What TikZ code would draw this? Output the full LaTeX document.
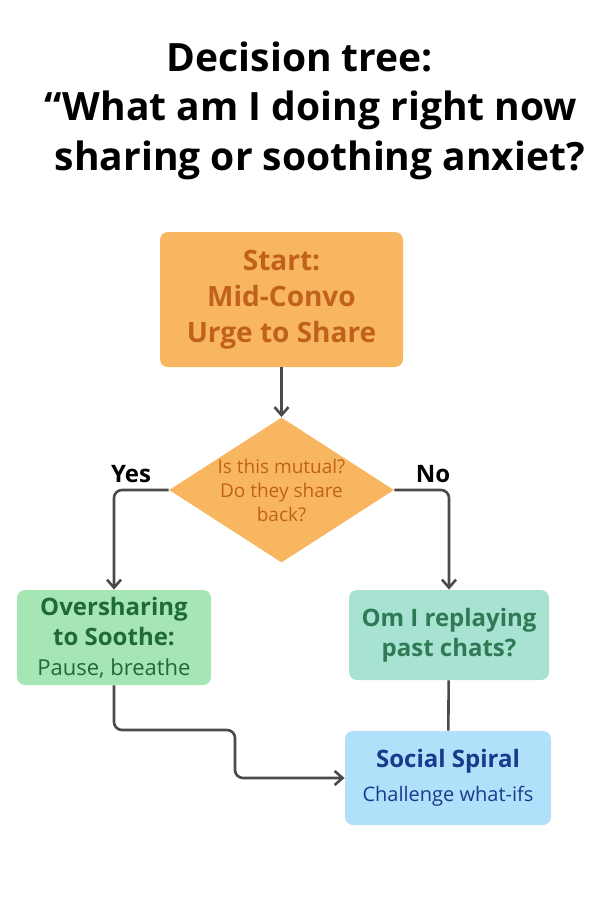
\documentclass[tikz,border=0pt]{standalone}
\usepackage{fontspec}
\setmainfont{Open Sans}
\usetikzlibrary{shapes.geometric,arrows.meta}
\definecolor{startfill}{HTML}{F9B660}
\definecolor{starttext}{HTML}{C0621C}
\definecolor{greenfill}{HTML}{A6E5B4}
\definecolor{greentext}{HTML}{1E6B34}
\definecolor{tealfill}{HTML}{A8E2D2}
\definecolor{tealtext}{HTML}{2E7A55}
\definecolor{bluefill}{HTML}{B0E0FA}
\definecolor{bluetext}{HTML}{173C8C}
\definecolor{linegray}{HTML}{4A4A4A}
\newcommand{\bigline}{\fontsize{12}{15}\selectfont\bfseries}
\newcommand{\smallline}{\fontsize{11}{13}\selectfont\mdseries}
\tikzset{
  box/.style={rounded corners=4pt, align=center, inner sep=0pt},
  link/.style={draw=linegray, line width=1.3pt, rounded corners=4pt},
  arr/.style={link, -{Straight Barb[length=4pt,width=7pt]}},
}
\begin{document}
\begin{tikzpicture}[x=0.5pt,y=-0.5pt]
\useasboundingbox (0,0) rectangle (600,900);
% title
\node (title1) at (300,57) {\fontsize{19.5}{23}\selectfont\bfseries Decision tree:};
\node (title2) at (311,110) {\fontsize{19.5}{23}\selectfont\bfseries “What am I doing right now};
\node (title3) at (320,160) {\fontsize{19.5}{23}\selectfont\bfseries sharing or soothing anxiet?};
% boxes
\node[box, fill=startfill, text=starttext, minimum width=121.5pt, minimum height=67.5pt, font=\fontsize{14}{18}\selectfont\bfseries]
  (start) at (281.5,299.5) {Start:\\Mid-Convo\\Urge to Share};
\node[diamond, fill=startfill, text=starttext, minimum width=111.5pt, minimum height=72pt, inner sep=0pt, aspect=1.55, align=center, font=\fontsize{9.5}{12}\selectfont]
  (mutual) at (281.5,490) {Is this mutual?\\Do they share\\back?};
\node[box, fill=greenfill, text=greentext, minimum width=97pt, minimum height=47.5pt, font=\bigline]
  (over) at (114,637.5) {Oversharing\\to Soothe:\\\smallline Pause, breathe};
\node[box, fill=tealfill, text=tealtext, minimum width=100pt, minimum height=45pt, font=\bigline]
  (replay) at (449,635) {Om I replaying\\past chats?};
\node[box, fill=bluefill, text=bluetext, minimum width=103pt, minimum height=47pt, font=\bigline]
  (spiral) at (448,778) {Social Spiral\\[2pt]\fontsize{10}{12}\selectfont\mdseries Challenge what-ifs};
% labels
\node[font=\fontsize{12}{14}\selectfont\bfseries] (yes) at (131,474) {Yes};
\node[font=\fontsize{12}{14}\selectfont\bfseries] (no) at (433,474) {No};
% connectors
\draw[arr] (start) -- (mutual);
\draw[arr] (mutual.west) -| (over.north);
\draw[arr] (mutual.east) -| (replay.north);
\draw[link] (replay) -- (spiral);
\draw[arr] (over.south) |- (235,730) |- (spiral.west);
\end{tikzpicture}
\end{document}
